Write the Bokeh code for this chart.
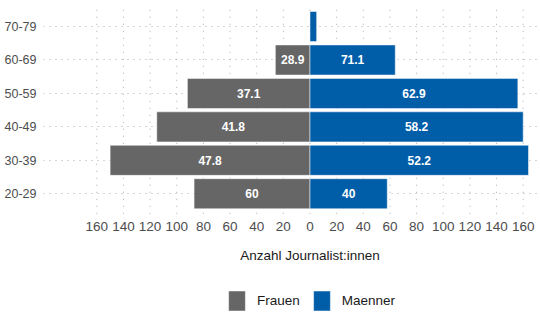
from bokeh.plotting import figure
from bokeh.models import (Range1d, FixedTicker, Legend, LegendItem, Label,
                          ColumnDataSource, LabelSet)
from bokeh.core.properties import value
from bokeh.embed import file_html
from bokeh.resources import INLINE

# ---- data ----
age_groups = ["20-29", "30-39", "40-49", "50-59", "60-69", "70-79"]
frauen = [87, 150, 115, 92, 26, 0]
maenner = [58, 164, 160, 156, 64, 5]
pct_frauen = ["60", "47.8", "41.8", "37.1", "28.9", ""]
pct_maenner = ["40", "52.2", "58.2", "62.9", "71.1", ""]
ticks = [-160, -140, -120, -100, -80, -60, -40, -20, 0, 20, 40, 60, 80, 100, 120, 140, 160]

GRAY = "#666666"
BLUE = "#005DA8"
GRID = "#adadad"
FONT = "Liberation Sans"

ypos = [i + 1 for i in range(len(age_groups))]
lo, hi = 0.4, len(age_groups) + 0.6

src = ColumnDataSource(dict(
    y=ypos,
    f_left=[-v for v in frauen],
    f_mid=[-v / 2 for v in frauen],
    m_right=maenner,
    m_mid=[v / 2 for v in maenner],
    zero=[0] * len(age_groups),
    pf=pct_frauen,
    pm=pct_maenner,
))

p = figure(width=540, height=335, output_backend="svg", toolbar_location=None,
           x_range=Range1d(-200, 173), y_range=Range1d(-3.24, hi),
           x_axis_location=None,
           min_border_left=43, min_border_right=0, min_border_top=6,
           min_border_bottom=0)
p.outline_line_color = None
p.background_fill_color = "white"
p.border_fill_color = "white"
p.xgrid.visible = False

# vertical dotted grid lines, limited to the panel
p.segment(x0=ticks, x1=ticks, y0=[lo] * len(ticks), y1=[hi] * len(ticks),
          line_color=GRID, line_dash="1 6", line_width=1)

rf = p.hbar(y="y", left="f_left", right="zero", height=0.9, source=src,
            fill_color=GRAY, line_color="white", line_width=0.5)
rm = p.hbar(y="y", left="zero", right="m_right", height=0.9, source=src,
            fill_color=BLUE, line_color="white", line_width=0.5)

lab_style = dict(text_color="white", text_font=value(FONT), text_font_size="12px",
                 text_font_style="bold", text_align="center", text_baseline="middle")
p.add_layout(LabelSet(x="f_mid", y="y", text="pf", source=src, **lab_style))
p.add_layout(LabelSet(x="m_mid", y="y", text="pm", source=src, **lab_style))

# x tick labels (absolute values)
p.text(x=ticks, y=[0.02] * len(ticks), text=[str(abs(t)) for t in ticks],
       text_font=value(FONT), text_font_size="13.5px", text_color="#4d4d4d",
       text_align="center", text_baseline="middle")

# y axis
ya = p.yaxis[0]
ya.ticker = FixedTicker(ticks=ypos)
ya.major_label_overrides = {y: g for y, g in zip(ypos, age_groups)}
ya.axis_line_color = None
ya.major_tick_line_color = None
ya.minor_tick_line_color = None
ya.major_tick_out = 0
ya.major_tick_in = 0
ya.minor_tick_out = 0
ya.major_label_text_font = FONT
ya.major_label_text_font_size = "12.5px"
ya.major_label_text_color = "#4d4d4d"
ya.major_label_standoff = 7

p.ygrid.ticker = FixedTicker(ticks=ypos)
p.ygrid.grid_line_color = GRID
p.ygrid.grid_line_dash = "1 5"
p.ygrid.grid_line_width = 1

# axis title centred on zero
p.add_layout(Label(x=0, y=-0.85, text="Anzahl Journalist:innen", text_align="center",
                   text_baseline="middle", text_font=FONT,
                   text_font_size="13.5px", text_color="#1a1a1a"))

legend = Legend(items=[LegendItem(label="Frauen", renderers=[rf]),
                       LegendItem(label="Maenner", renderers=[rm])],
                orientation="horizontal", location=(183, 22),
                glyph_width=21, glyph_height=25, label_standoff=10, spacing=11,
                padding=0, margin=0, border_line_color=None,
                background_fill_alpha=0,
                label_text_font=FONT, label_text_font_size="13.5px",
                label_text_color="#1a1a1a", label_height=25)
p.add_layout(legend, "center")

open("out.html", "w").write(file_html(p, INLINE))
